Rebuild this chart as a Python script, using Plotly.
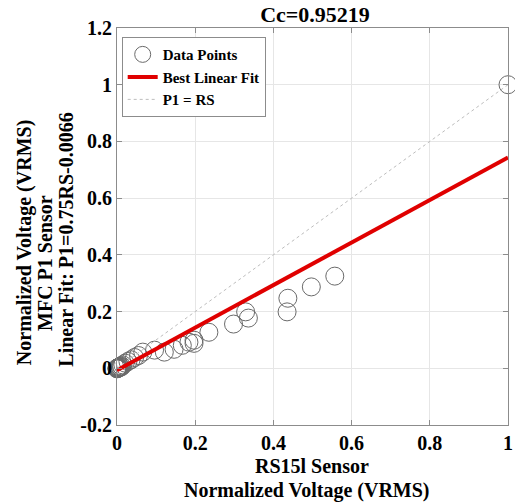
import plotly.graph_objects as go

# Data
rs_x = [1.0, 0.557, 0.497, 0.437, 0.435, 0.336, 0.329, 0.298, 0.235, 0.197, 0.197,
        0.184, 0.167, 0.146, 0.121, 0.096, 0.066, 0.055, 0.045, 0.036, 0.028, 0.021,
        0.015, 0.011, 0.008, 0.006, 0.004, 0.003, 0.002, 0.001, 0.0,
        0.012, 0.009, 0.005, 0.003, 0.002, 0.001, 0.0, 0.0]
p1_y = [1.0, 0.325, 0.287, 0.247, 0.199, 0.177, 0.199, 0.156, 0.127, 0.099, 0.088,
        0.092, 0.081, 0.067, 0.057, 0.064, 0.057, 0.045, 0.038, 0.030, 0.024, 0.018,
        0.012, 0.009, 0.006, 0.004, 0.003, 0.002, 0.001, 0.0, 0.0,
        0.006, 0.004, 0.002, 0.001, 0.0, 0.0, 0.0, -0.002]
fit_slope = 0.75
fit_intercept = -0.0066
fit_x = [0.0, 1.0]
ident_x = [0.0, 1.0]

x_ticks = [0, 0.2, 0.4, 0.6, 0.8, 1]
x_ticktext = ["0", "0.2", "0.4", "0.6", "0.8", "1"]
y_ticks = [-0.2, 0, 0.2, 0.4, 0.6, 0.8, 1, 1.2]
y_ticktext = ["-0.2", "0", "0.2", "0.4", "0.6", "0.8", "1", "1.2"]

title_text = "Cc=0.95219"
x_title_lines = ["RS15l Sensor", "Normalized Voltage (VRMS)"]
y_title_lines = ["Normalized Voltage (VRMS)", "MFC P1 Sensor", "Linear Fit: P1=0.75RS-0.0066"]

FONT = "Liberation Serif"
W, H = 515, 502
L, R, T, B = 117, 2, 28, 77
PW, PH = W - L - R, H - T - B


def px_x(p):
    return (p - L) / PW


def px_y(p):
    return (H - B - p) / PH


fig = go.Figure()
fig.add_trace(go.Scatter(
    x=rs_x, y=p1_y, mode="markers", name="Data Points",
    marker=dict(symbol="circle-open", size=18, color="#6a6a6a", line=dict(width=1, color="#6a6a6a")),
    cliponaxis=False,
))
fig.add_trace(go.Scatter(
    x=fit_x, y=[fit_slope * v + fit_intercept for v in fit_x], mode="lines",
    name="Best Linear Fit", line=dict(color="#e00000", width=4),
))
fig.add_trace(go.Scatter(
    x=ident_x, y=ident_x, mode="lines", name="P1 = RS",
    line=dict(color="#bdbdbd", width=1, dash="dot"),
))

axis_common = dict(
    showgrid=True, gridcolor="#e6e6e6", gridwidth=1,
    showline=True, linecolor="#8c8c8c", linewidth=1, mirror="ticks",
    ticks="inside", ticklen=5, tickcolor="#8c8c8c",
    tickfont=dict(family=FONT, size=20, color="black", weight="bold"),
    zeroline=False, ticklabeloverflow="allow",
)

annotations = []
for txt, xc, yc in zip(y_title_lines, [23, 44, 65], [242, 263, 240]):
    annotations.append(dict(
        text=txt, textangle=-90, xref="paper", yref="paper",
        x=px_x(xc), y=px_y(yc), xanchor="center", yanchor="middle",
        showarrow=False, font=dict(family=FONT, size=20, color="black", weight="bold"),
    ))
for txt, xc, yc in zip(x_title_lines, [314, 309], [466, 490]):
    annotations.append(dict(
        text=txt, xref="paper", yref="paper",
        x=px_x(xc), y=px_y(yc), xanchor="center", yanchor="middle",
        showarrow=False, font=dict(family=FONT, size=20, color="black", weight="bold"),
    ))

fig.update_layout(
    width=W, height=H,
    margin=dict(l=L, r=R, t=T, b=B),
    paper_bgcolor="white", plot_bgcolor="white",
    title=dict(text=title_text, x=315 / W, xanchor="center",
               y=1 - 14 / H, yanchor="middle",
               font=dict(family=FONT, size=22, color="black", weight="bold")),
    xaxis=dict(range=[0, 1], tickvals=x_ticks, ticktext=x_ticktext, **axis_common),
    yaxis=dict(range=[-0.2, 1.2], tickvals=y_ticks, ticktext=y_ticktext, **axis_common),
    legend=dict(x=0.012, y=0.977, xanchor="left", yanchor="top",
                bgcolor="white", bordercolor="#8c8c8c", borderwidth=1,
                font=dict(family=FONT, size=15, color="black", weight="bold"),
                tracegroupgap=0, itemwidth=30),
    showlegend=True,
    annotations=annotations,
)

fig.write_html("out.html")
